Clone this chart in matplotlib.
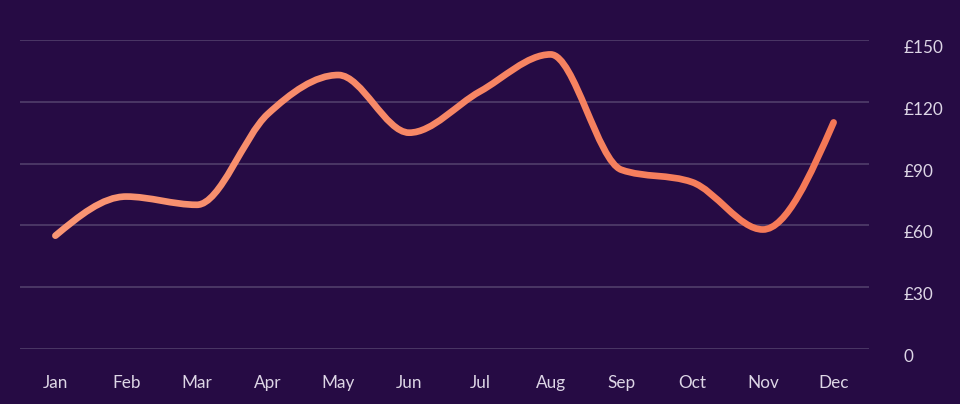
import numpy as np
import matplotlib
matplotlib.use("Agg")
import matplotlib.pyplot as plt
from matplotlib.path import Path
from matplotlib.patches import PathPatch
from matplotlib.transforms import Bbox, TransformedBbox, ScaledTranslation
import matplotlib.colors as mcolors

months = ["Jan", "Feb", "Mar", "Apr", "May", "Jun", "Jul", "Aug", "Sep", "Oct", "Nov", "Dec"]
values = [55, 74, 70, 114, 133, 105, 125, 143, 87, 81, 58, 110]
y_ticks = [0, 30, 60, 90, 120, 150]
y_tick_labels = ["0", "£30", "£60", "£90", "£120", "£150"]

BG = "#260b44"
GRID = "#4d3a68"
TEXT = "#ddd6e6"
C_LEFT = "#f99574"
C_RIGHT = "#f57856"

plt.rcParams['font.family'] = ['Lato', 'DejaVu Sans']

fig = plt.figure(figsize=(9.6, 4.04), dpi=100, facecolor=BG)
ax = fig.add_axes([20 / 960, (404 - 349) / 404, (869 - 20) / 960, (349 - 40) / 404])
ax.set_facecolor(BG)

x = np.arange(len(months), dtype=float)
y = np.array(values, dtype=float)

# monotone-x cubic (d3 curveMonotoneX style) tangents
n = len(x)
h = np.diff(x)
s = np.diff(y) / h
t = np.zeros(n)
for i in range(1, n - 1):
    s0, s1 = s[i - 1], s[i]
    p = (s0 * h[i] + s1 * h[i - 1]) / (h[i - 1] + h[i])
    t[i] = (np.sign(s0) + np.sign(s1)) * min(abs(s0), abs(s1), 0.5 * abs(p))
t[0] = (3 * s[0] - t[1]) / 2
t[-1] = (3 * s[-1] - t[-2]) / 2

verts = [(x[0], y[0])]
codes = [Path.MOVETO]
for i in range(n - 1):
    dx = (x[i + 1] - x[i]) / 3
    verts += [(x[i] + dx, y[i] + dx * t[i]),
              (x[i + 1] - dx, y[i + 1] - dx * t[i + 1]),
              (x[i + 1], y[i + 1])]
    codes += [Path.CURVE4] * 3
path = Path(verts, codes)

# gradient stroke: same path drawn in vertical strips
cl = np.array(mcolors.to_rgb(C_LEFT))
cr = np.array(mcolors.to_rgb(C_RIGHT))
edges = np.linspace(-1.0, 12.0, 41)
for k in range(len(edges) - 1):
    f = (0.5 * (edges[k] + edges[k + 1]) - x[0]) / (x[-1] - x[0])
    f = min(max(f, 0), 1)
    col = cl * (1 - f) + cr * f
    patch = PathPatch(path, facecolor="none", edgecolor=col, lw=4.8,
                      capstyle="round", joinstyle="round", zorder=3)
    ax.add_patch(patch)
    patch.set_clip_box(TransformedBbox(Bbox([[edges[k], -100], [edges[k + 1], 300]]), ax.transData))
    patch.set_clip_on(True)

ax.set_xlim(-0.5, 11.5)
ax.set_ylim(0, 150)
ax.set_xticks(x)
ax.set_xticklabels(months)
ax.set_yticks(y_ticks)
ax.set_yticklabels(y_tick_labels)
ax.yaxis.tick_right()
ax.tick_params(axis="both", length=0, colors=TEXT, labelsize=12.3)
ax.tick_params(axis="y", pad=25)
ax.tick_params(axis="x", pad=18.5)
for lab in ax.get_yticklabels():
    lab.set_horizontalalignment("left")
    lab.set_transform(lab.get_transform() + ScaledTranslation(0, -6.5 / 100, fig.dpi_scale_trans))

ax.grid(axis="y", color=GRID, lw=1.3)
ax.set_axisbelow(True)
for sp in ax.spines.values():
    sp.set_visible(False)

fig.savefig("out.png", dpi=100, facecolor=BG)
